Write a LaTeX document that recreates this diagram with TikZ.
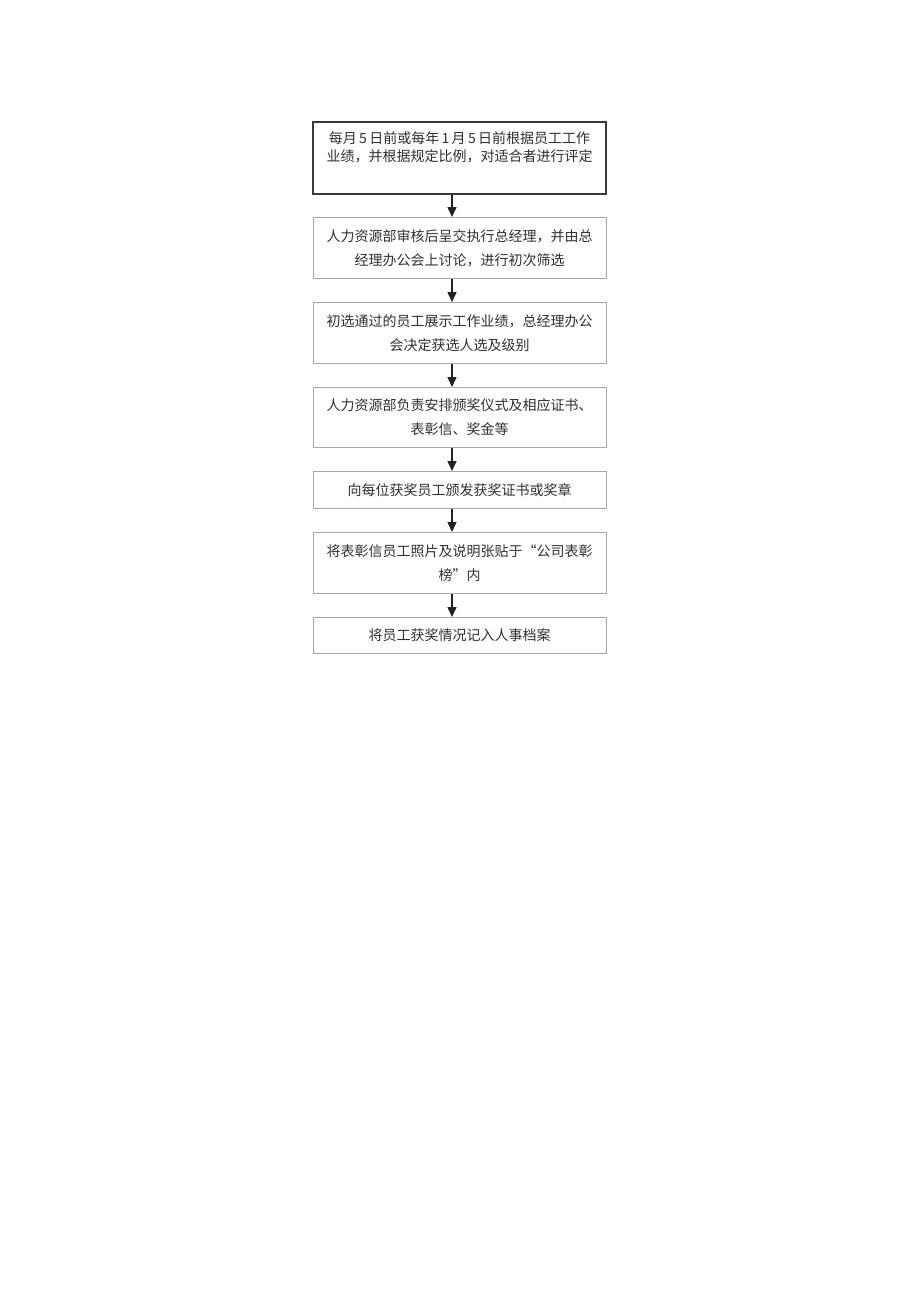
\documentclass[tikz,border=0pt]{standalone}
\usepackage{fontspec}
\newfontfamily\cjk{Noto Sans CJK SC}
\usetikzlibrary{arrows.meta}
\definecolor{txt}{HTML}{303030}
\definecolor{lightb}{HTML}{A8A8A8}
\definecolor{darkb}{HTML}{3A3A3A}
\definecolor{arrowc}{HTML}{222222}
\begin{document}
\begin{tikzpicture}[x=1pt,y=-1pt,
  stepbox/.style={draw=lightb,line width=1pt,rectangle,minimum width=293pt,
    inner sep=0pt,align=center,text=txt,anchor=north,
    font=\cjk\fontsize{14}{24}\selectfont},
  firstbox/.style={stepbox,draw=darkb,line width=2pt,
    font=\cjk\fontsize{14}{18}\selectfont},
  flow/.style={draw=arrowc,line width=1.5pt,-{Triangle[width=9pt,length=10pt]}}]
\useasboundingbox[fill=white] (0,0) rectangle (920,1301);
\node[firstbox,minimum height=72pt] (b1) at (459.5,121)
  {每月\,5\,日前或每年\,1\,月\,5\,日前根据员工工作\\业绩，并根据规定比例，对适合者进行评定\\ \strut};
\node[stepbox,minimum height=61pt] (b2) at (459.5,217)
  {人力资源部审核后呈交执行总经理，并由总\\经理办公会上讨论，进行初次筛选};
\node[stepbox,minimum height=61pt] (b3) at (459.5,302)
  {初选通过的员工展示工作业绩，总经理办公\\会决定获选人选及级别};
\node[stepbox,minimum height=60pt] (b4) at (459.5,387)
  {人力资源部负责安排颁奖仪式及相应证书、\\表彰信、奖金等};
\node[stepbox,minimum height=37pt] (b5) at (459.5,471)
  {向每位获奖员工颁发获奖证书或奖章};
\node[stepbox,minimum height=61pt] (b6) at (459.5,532)
  {将表彰信员工照片及说明张贴于“公司表彰\\榜”内};
\node[stepbox,minimum height=36pt] (b7) at (459.5,617)
  {将员工获奖情况记入人事档案};
\draw[flow] (b1.south -| 452,0) -- (b2.north -| 452,0);
\draw[flow] (b2.south -| 452,0) -- (b3.north -| 452,0);
\draw[flow] (b3.south -| 452,0) -- (b4.north -| 452,0);
\draw[flow] (b4.south -| 452,0) -- (b5.north -| 452,0);
\draw[flow] (b5.south -| 452,0) -- (b6.north -| 452,0);
\draw[flow] (b6.south -| 452,0) -- (b7.north -| 452,0);
\end{tikzpicture}
\end{document}
